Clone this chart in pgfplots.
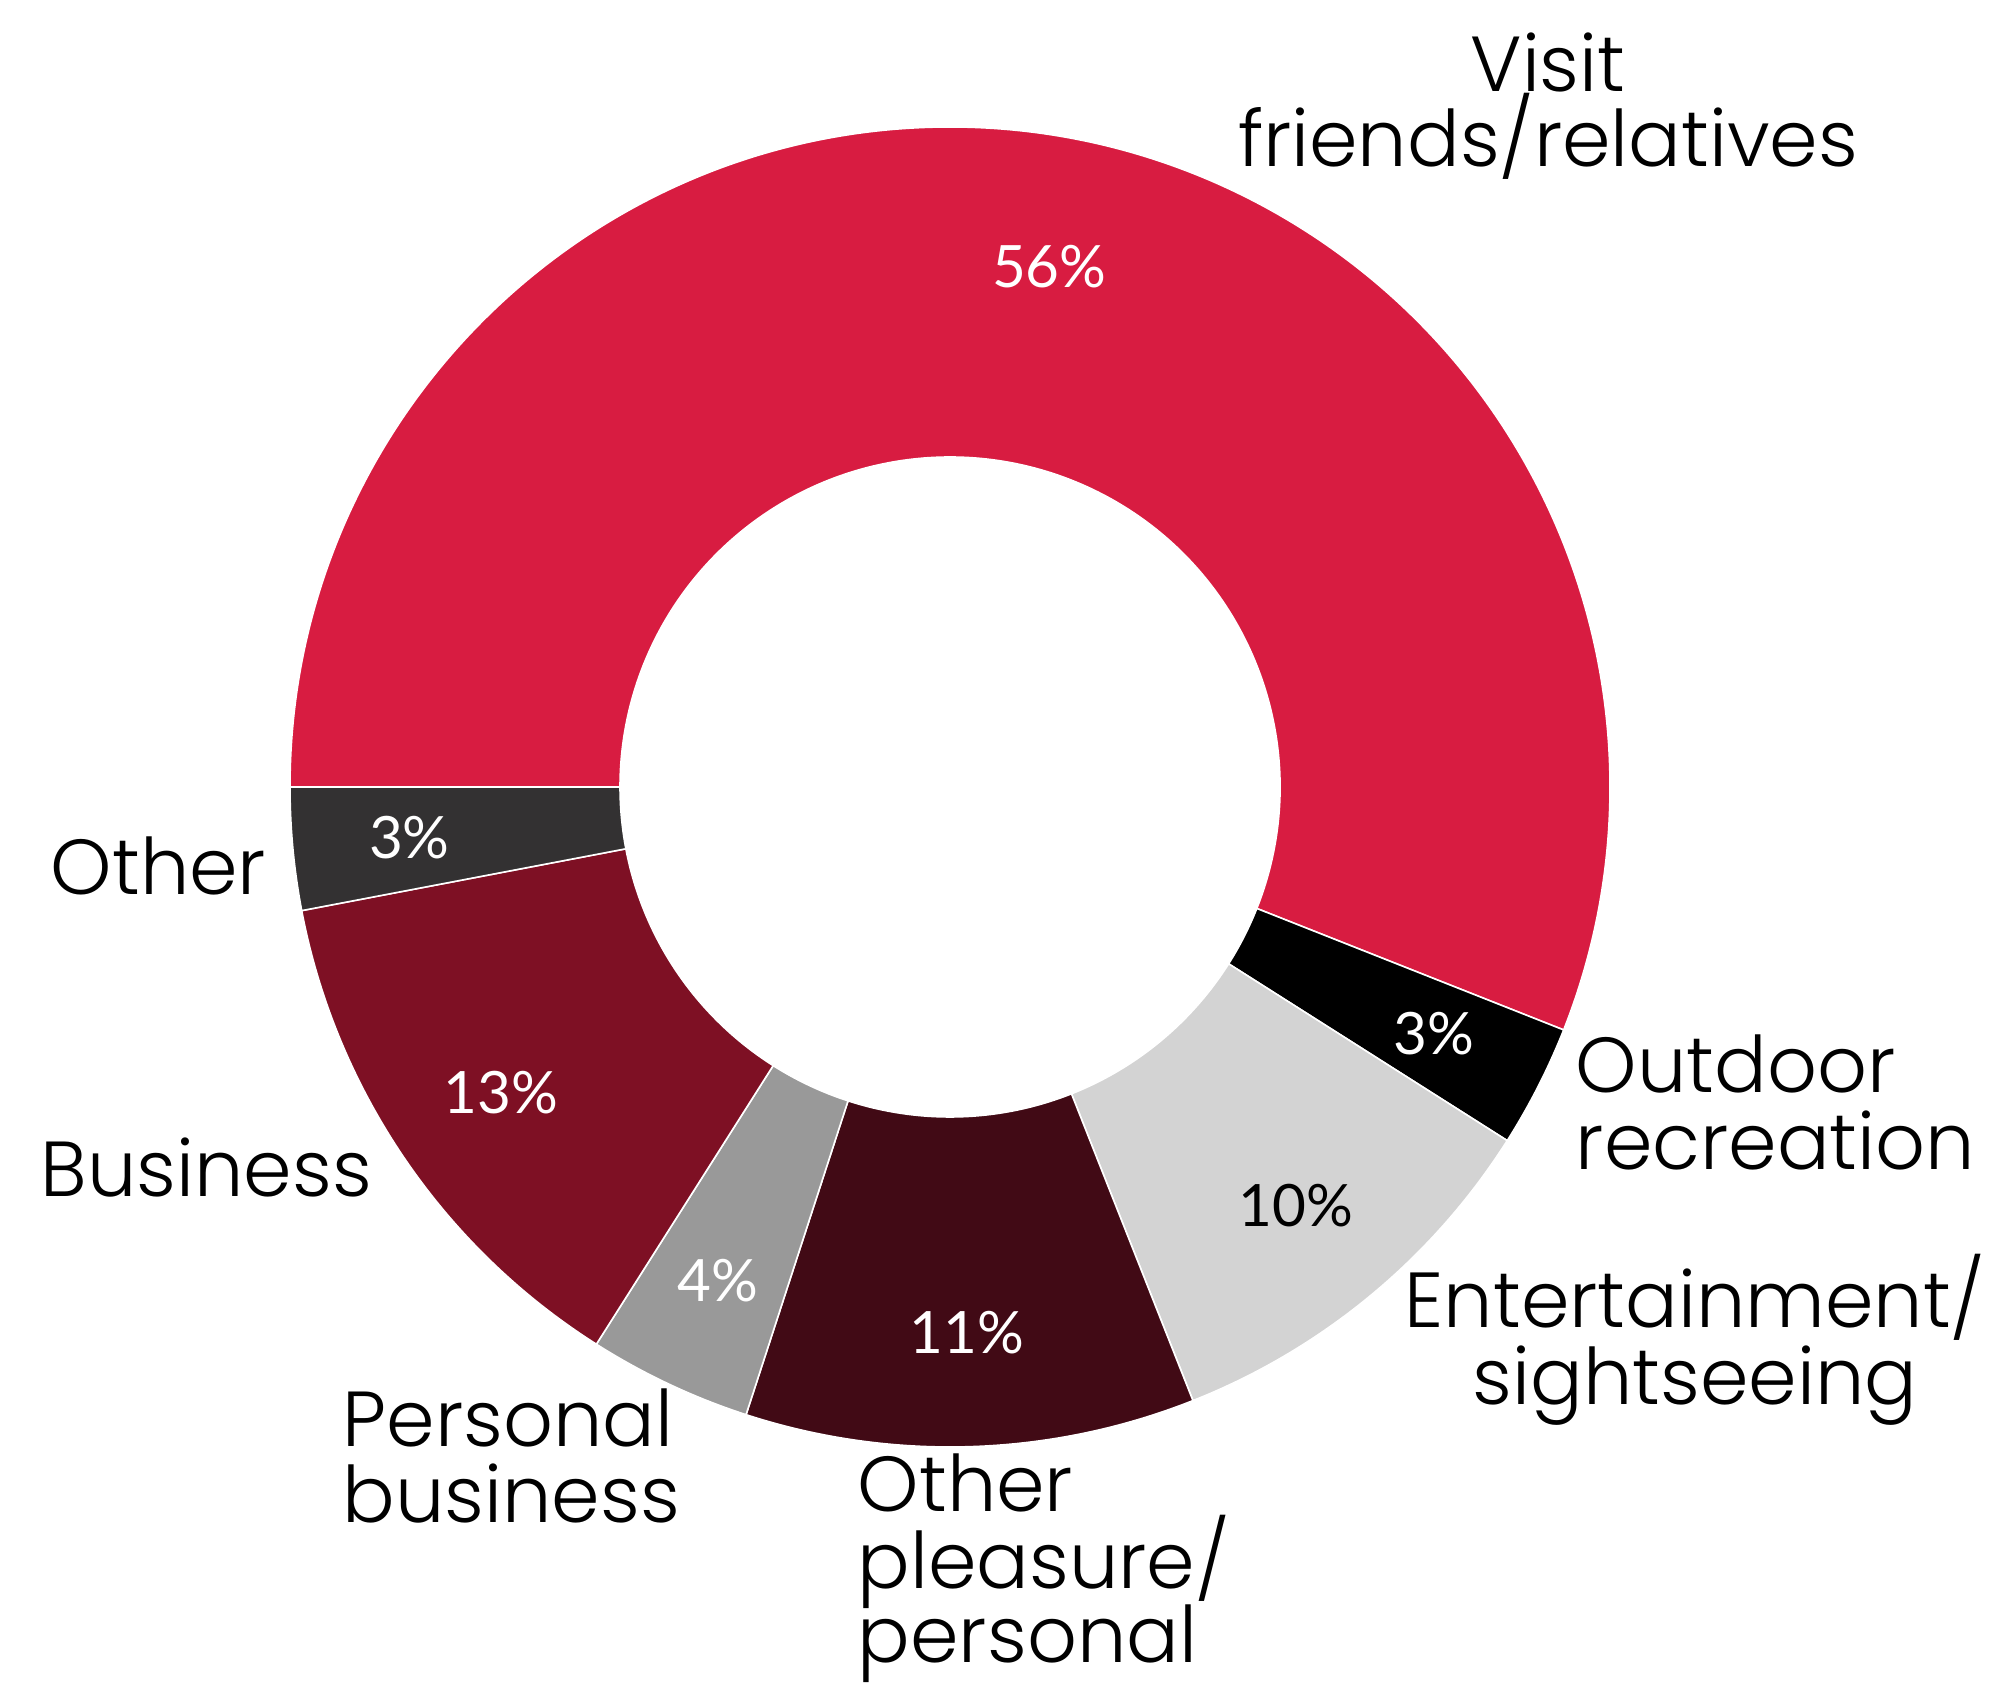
\documentclass[border=0pt]{standalone}
\usepackage{pgfplots}
\pgfplotsset{compat=1.18}
\usepackage{pgfplotstable}
\usepackage{fontspec}
\IfFontExistsTF{Poppins Light}{\setmainfont{Poppins Light}}{\setmainfont{Poppins}}
\newfontfamily\pctfont{Lato}

\definecolor{visit}{RGB}{216,28,65}
\definecolor{outdoor}{RGB}{0,0,0}
\definecolor{entert}{RGB}{211,211,211}
\definecolor{otherpl}{RGB}{65,10,21}
\definecolor{persbus}{RGB}{153,153,153}
\definecolor{business}{RGB}{126,16,36}
\definecolor{other}{RGB}{51,49,50}

% share of trips, clockwise from 9 o'clock; lr = radius of the % label (pt)
\pgfplotstableread{
value fillc textc lr
56 visit white 132.5
3 outdoor white 135.75
10 entert black 135.75
11 otherpl white 136.5
4 persbus white 136.5
13 business white 135.75
3 other white 135.75
}\slices

\tikzset{
  pct/.style={font=\pctfont\fontsize{14.6pt}{17pt}\selectfont, inner sep=0pt},
  lab/.style={font=\fontsize{19.5pt}{19pt}\selectfont, inner sep=0pt},
}

\begin{document}
\begin{tikzpicture}
\begin{axis}[
  x=0.25pt, y=0.25pt,
  xmin=0, xmax=2009, ymin=0, ymax=1690,
  scale only axis, hide axis, clip=false,
]
\pgfplotstablegetrowsof{\slices}
\pgfmathtruncatemacro\last{\pgfplotsretval-1}
\def\cumul{180}
\pgfplotsforeachungrouped \i in {0,...,\last}{%
  \pgfplotstablegetelem{\i}{value}\of\slices \let\v\pgfplotsretval
  \pgfplotstablegetelem{\i}{fillc}\of\slices \let\fc\pgfplotsretval
  \pgfplotstablegetelem{\i}{textc}\of\slices \let\tc\pgfplotsretval
  \pgfplotstablegetelem{\i}{lr}\of\slices \let\lr\pgfplotsretval
  \pgfmathsetmacro\a{\cumul}
  \pgfmathsetmacro\b{\cumul-3.6*\v}
  \pgfmathsetmacro\m{(\a+\b)/2}
  \edef\temp{%
    \noexpand\fill[\fc, draw=white, line width=0.4pt]
      ([shift={(\a:165pt)}]axis cs:950,903)
      arc[start angle=\a, end angle=\b, radius=165pt]
      -- ([shift={(\b:82.5pt)}]axis cs:950,903)
      arc[start angle=\b, end angle=\a, radius=82.5pt] -- cycle;
    \noexpand\node[pct, text=\tc] at ([shift={(\m:\lr pt)}]axis cs:950,903) {\v\noexpand\%};
  }%
  \temp
  \let\cumul\b
}

\node[lab, anchor=base] at (axis cs:1548,1598) {Visit};
\node[lab, anchor=base] at (axis cs:1548,1523) {friends/relatives};
\node[lab, anchor=base west] at (axis cs:1575,597) {Outdoor};
\node[lab, anchor=base west] at (axis cs:1575,520) {recreation};
\node[lab, anchor=base] at (axis cs:1695,362) {Entertainment/};
\node[lab, anchor=base] at (axis cs:1695,285) {sightseeing};
\node[lab, anchor=base west] at (axis cs:857,178) {Other};
\node[lab, anchor=base west] at (axis cs:857,102) {pleasure/};
\node[lab, anchor=base west] at (axis cs:857,28) {personal};
\node[lab, anchor=base west] at (axis cs:342,243) {Personal};
\node[lab, anchor=base west] at (axis cs:342,167) {business};
\node[lab, anchor=base west] at (axis cs:40,493) {Business};
\node[lab, anchor=base west] at (axis cs:50,795) {Other};
\end{axis}
\pgfresetboundingbox
\path[use as bounding box] (current axis.south west) rectangle (current axis.north east);
\end{tikzpicture}
\end{document}
